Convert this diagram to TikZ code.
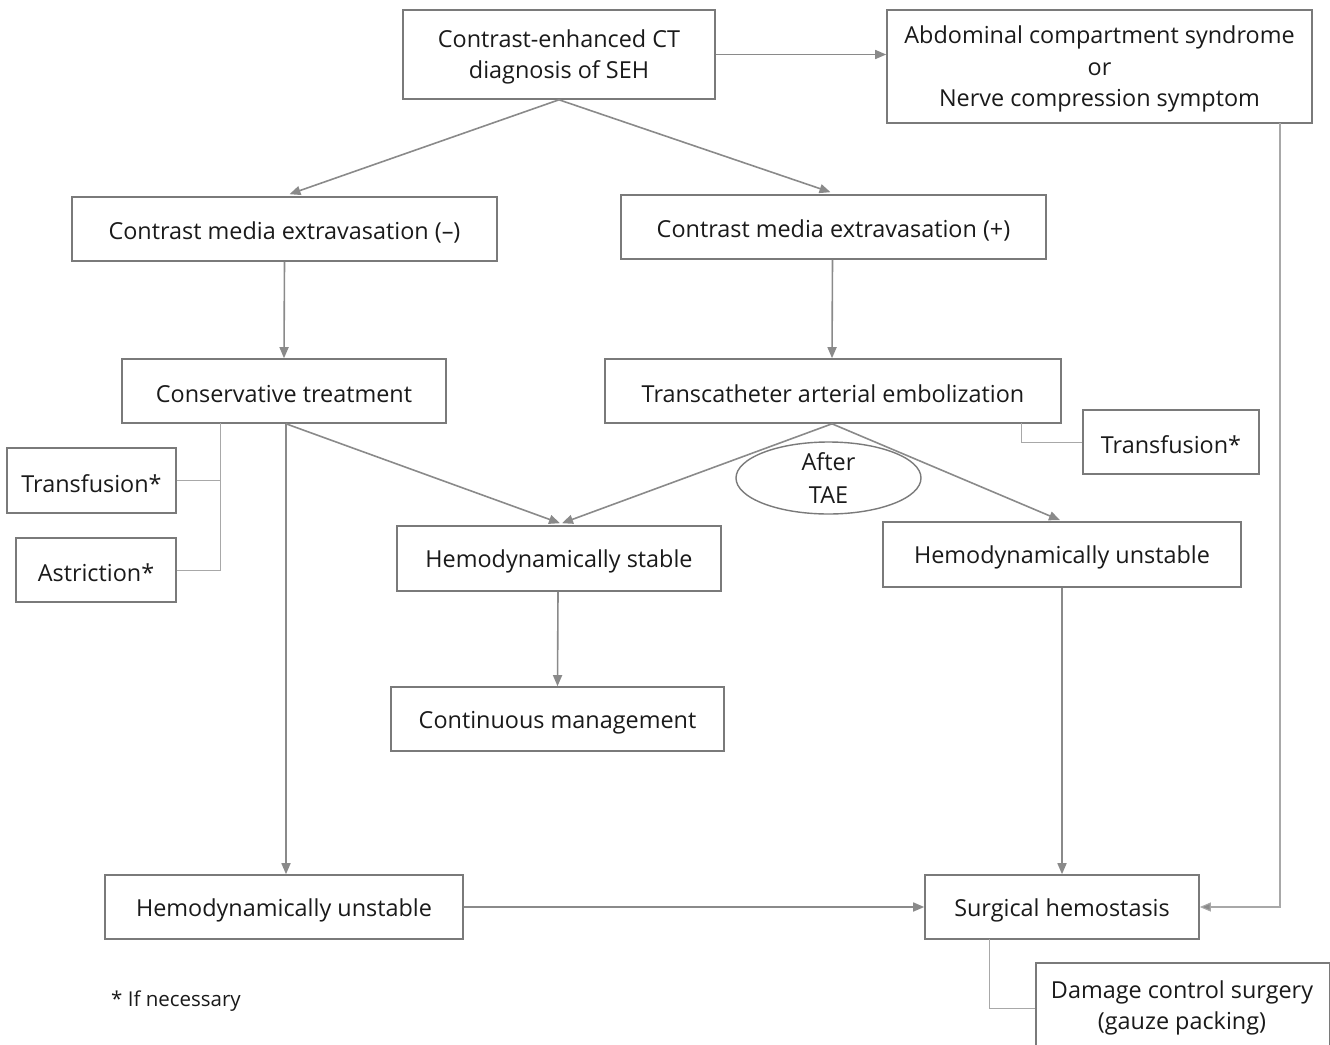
\documentclass[tikz,border=0pt]{standalone}
\usepackage{fontspec}
\setmainfont{Open Sans}
\usetikzlibrary{arrows.meta,shapes.geometric,calc}
\definecolor{boxline}{HTML}{7A7A7A}
\definecolor{arrline}{HTML}{8A8A8A}
\definecolor{thinline}{HTML}{A8A8A8}
\definecolor{txt}{HTML}{1A1A1A}
\tikzset{
  box/.style={draw=boxline,line width=1.6pt,fill=white,inner sep=0pt,align=center,text=txt,
    font=\fontsize{23.4}{31.5}\selectfont,execute at begin node={\rule{0pt}{24pt}}},
  label text/.style={text=txt,font=\fontsize{23.4}{31.8}\selectfont,align=center,inner sep=0pt},
  arr/.style={draw=arrline,line width=1.6pt,-{Triangle[length=11pt,width=9pt]}},
  thin/.style={draw=thinline,line width=1pt},
  thinarr/.style={draw=thinline,line width=1.1pt,-{Triangle[length=11pt,width=9pt,fill=arrline]}},
}
\begin{document}
\begin{tikzpicture}[x=1pt,y=-1pt]
\useasboundingbox (0,0) rectangle (1330,1044);
\node[box,minimum width=312pt,minimum height=89pt] (ct) at (559,54.5) {};
\node[label text] (ctt) at ($(ct.center)+(0,2.5)$) {Contrast-enhanced CT\\diagnosis of SEH};
\node[box,minimum width=425pt,minimum height=113pt] (acs) at (1099.5,66.5) {};
\node[label text] (acst) at ($(acs.center)+(0,2.5)$) {Abdominal compartment syndrome\\or\\Nerve compression symptom};
\node[box,minimum width=425pt,minimum height=64pt] (neg) at (284.5,229) {Contrast media extravasation (–)};
\node[box,minimum width=425pt,minimum height=64pt] (pos) at (833.5,227) {Contrast media extravasation (+)};
\node[box,minimum width=324pt,minimum height=64pt] (cons) at (284,391) {Conservative treatment};
\node[box,minimum width=456pt,minimum height=64pt] (tae) at (833,391) {Transcatheter arterial embolization};
\node[box,minimum width=176pt,minimum height=64pt] (trR) at (1171,442) {Transfusion*};
\node[box,minimum width=169pt,minimum height=65pt] (trL) at (91.5,480.5) {Transfusion*};
\node[box,minimum width=160pt,minimum height=64pt] (ast) at (96,570) {Astriction*};
\node[box,minimum width=324pt,minimum height=65pt] (stab) at (559,558.5) {Hemodynamically stable};
\node[box,minimum width=358pt,minimum height=65pt] (unstR) at (1062,554.5) {Hemodynamically unstable};
\node[box,minimum width=333pt,minimum height=64pt] (cont) at (557.5,719) {Continuous management};
\node[box,minimum width=358pt,minimum height=64pt] (unstL) at (284,907) {Hemodynamically unstable};
\node[box,minimum width=274pt,minimum height=64pt] (surg) at (1062,907) {Surgical hemostasis};
\node[box,minimum width=294pt,minimum height=92pt,anchor=north west] (dcs) at (1035,962) {};
\node[label text] (dcst) at (1182,1008) {Damage control surgery\\(gauze packing)};
\node[text=txt,font=\fontsize{20.5}{24}\selectfont,anchor=west,inner sep=0pt] (note) at (111,1001) {* If necessary};
% arrows
\draw[arr] (ct.east) -- (ct.east -| acs.west);
\draw[arr] (ct.south) -- ($(neg.north)+(5,-2)$);
\draw[arr] (ct.south) -- ($(pos.north)+(-3,-2)$);
\draw[arr] (neg.south) -- (cons.north);
\draw[arr] ($(pos.south)+(-1,0)$) -- ($(tae.north)+(-1,0)$);
\draw[arr] ($(cons.south)+(2,0)$) -- ($(unstL.north)+(2,0)$);
\draw[arr] ($(cons.south)+(2,0)$) -- ($(stab.north)+(1,-2)$);
% ellipse
\draw[arr] ($(tae.south)+(-1,0)$) -- ($(stab.north)+(3,-2)$);
\draw[arr] ($(tae.south)+(-1,0)$) -- ($(unstR.north)+(-2,-1)$);
\node[draw=boxline,line width=1.4pt,fill=white,ellipse,minimum width=185pt,minimum height=67pt,inner sep=0pt,align=center,text=txt,font=\fontsize{23.4}{33}\selectfont] (after) at (828.5,478) {After\\TAE};
\draw[arr] ($(stab.south)+(-1,0)$) -- (cont.north);
\draw[arr] (unstR.south) -- (surg.north);
\draw[arr] (unstL.east) -- (surg.west);
% thin connectors
\coordinate (lb) at (220,423);
\draw[thin] (lb) -- (lb |- ast.east) -- (ast.east);
\draw[thin] (lb |- trL.east) -- (trL.east);
\coordinate (rb) at (1021,423);
\draw[thin] (rb) -- (rb |- trR.west) -- (trR.west);
\coordinate (ab) at (1280,123);
\draw[thinarr] (ab) -- (ab |- surg.east) -- (surg.east);
\coordinate (sb) at (989,939);
\draw[thin] (sb) -- (sb |- dcst) -- (dcs.west |- dcst);
\end{tikzpicture}
\end{document}
